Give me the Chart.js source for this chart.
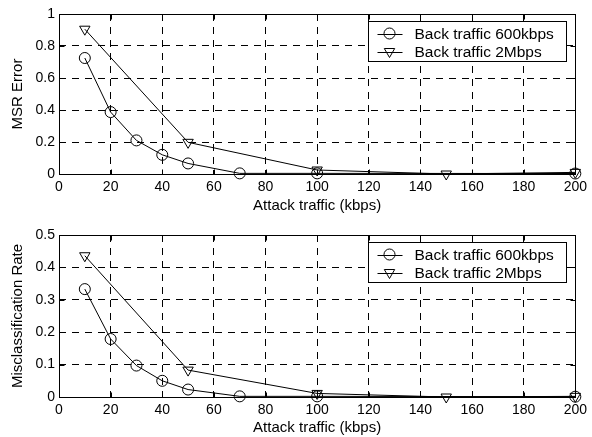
<!DOCTYPE html>
<html>
<head>
<meta charset="utf-8">
<script src="https://cdn.jsdelivr.net/npm/chart.js@4.4.1/dist/chart.umd.min.js"></script>
<style>
  html, body { margin: 0; padding: 0; background: #fff; }
  #wrap { position: relative; width: 592px; height: 437px; overflow: hidden; }
  .panel { position: absolute; left: 0; width: 592px; }
</style>
</head>
<body>
<div id="wrap">
  <div class="panel" style="top:0;height:218px"><canvas id="msrChart" width="592" height="218"></canvas></div>
  <div class="panel" style="top:218px;height:223px"><canvas id="misChart" width="592" height="223"></canvas></div>
</div>
<script>
// attack traffic (kbps) at which each series was measured
const attack600 = [10, 20, 30, 40, 50, 70, 100, 200];
const attack2M = [10, 50, 100, 150, 200];

// top panel: MSR error
const msr600 = [0.725, 0.387, 0.21, 0.12, 0.066, 0.004, 0.004, 0.003];
const msr2M = [0.905, 0.198, 0.025, 0, 0.01];

// bottom panel: misclassification rate
const mis600 = [0.333, 0.179, 0.097, 0.05, 0.023, 0.002, 0.002, 0.001];
const mis2M = [0.436, 0.083, 0.011, 0, 0.002];

const seriesNames = ['Back traffic 600kbps', 'Back traffic 2Mbps'];
const xTickValues = [0, 20, 40, 60, 80, 100, 120, 140, 160, 180, 200];
const msrTicks = [0, 0.2, 0.4, 0.6, 0.8, 1];
const misTicks = [0, 0.1, 0.2, 0.3, 0.4, 0.5];

const FONT = '"Liberation Sans", Arial, Helvetica, sans-serif';
Chart.defaults.font.family = FONT;
Chart.defaults.color = '#000';

function pts(xs, ys) {
  return xs.map((x, i) => ({ x: x, y: ys[i] }));
}

// matlab style box, inward ticks and the legend inside the axes
const matlabFrame = {
  id: 'matlabFrame',
  afterDraw(chart) {
    const ctx = chart.ctx;
    const a = chart.chartArea;
    const px = v => Math.round(v) + 0.5;
    const L = px(a.left), R = px(a.right), T = px(a.top), B = px(a.bottom);
    ctx.save();
    ctx.strokeStyle = '#000';
    ctx.lineWidth = 1;
    ctx.setLineDash([]);
    ctx.strokeRect(L, T, R - L, B - T);

    // inward tick marks
    ctx.beginPath();
    chart.scales.x.ticks.forEach(t => {
      const x = px(chart.scales.x.getPixelForValue(t.value));
      ctx.moveTo(x, B); ctx.lineTo(x, B - 5);
      ctx.moveTo(x, T); ctx.lineTo(x, T + 5);
    });
    chart.scales.y.ticks.forEach(t => {
      const y = px(chart.scales.y.getPixelForValue(t.value));
      ctx.moveTo(L, y); ctx.lineTo(L + 5, y);
      ctx.moveTo(R, y); ctx.lineTo(R - 5, y);
    });
    ctx.stroke();

    // legend
    const bw = 198, bh = 40;
    const bx = px(a.right - 9 - bw), by = px(a.top + 7);
    ctx.fillStyle = '#fff';
    ctx.fillRect(bx, by, bw, bh);
    ctx.strokeRect(bx, by, bw, bh);
    ctx.font = '15.5px ' + FONT;
    ctx.textBaseline = 'middle';
    ctx.fillStyle = '#000';
    seriesNames.forEach((name, i) => {
      const cy = by + 12 + i * 18;
      const cx = bx + 21;
      ctx.beginPath();
      ctx.moveTo(bx + 9, Math.round(cy) + 0.5);
      ctx.lineTo(bx + 34, Math.round(cy) + 0.5);
      ctx.stroke();
      ctx.beginPath();
      if (i === 0) {
        ctx.arc(cx, cy, 5.5, 0, Math.PI * 2);
      } else {
        const r = 6, s = r * Math.sin(Math.PI / 3);
        ctx.moveTo(cx, cy + r);
        ctx.lineTo(cx - s, cy - r / 2);
        ctx.lineTo(cx + s, cy - r / 2);
        ctx.closePath();
      }
      ctx.stroke();
      ctx.fillText(name, bx + 46, cy + 1);
    });
    ctx.restore();
  }
};

function makeChart(id, d600, d2M, yTicks, yMax, yTitle, pad, xHeight, titleBottom) {
  return new Chart(document.getElementById(id), {
    type: 'line',
    data: {
      datasets: [
        {
          label: seriesNames[0],
          data: pts(attack600, d600),
          borderColor: '#000',
          borderWidth: 1,
          pointStyle: 'circle',
          pointRadius: 5.5,
          pointBorderWidth: 1,
          pointBorderColor: '#000',
          pointBackgroundColor: 'rgba(0,0,0,0)',
          tension: 0,
          clip: false
        },
        {
          label: seriesNames[1],
          data: pts(attack2M, d2M),
          borderColor: '#000',
          borderWidth: 1,
          pointStyle: 'triangle',
          pointRotation: 180,
          pointRadius: 6,
          pointBorderWidth: 1,
          pointBorderColor: '#000',
          pointBackgroundColor: 'rgba(0,0,0,0)',
          tension: 0,
          clip: false
        }
      ]
    },
    options: {
      responsive: false,
      animation: false,
      events: [],
      layout: { padding: pad },
      plugins: { legend: { display: false }, tooltip: { enabled: false } },
      scales: {
        x: {
          type: 'linear',
          min: 0,
          max: 200,
          afterBuildTicks: s => { s.ticks = xTickValues.map(v => ({ value: v })); },
          afterFit: s => { s.height = xHeight; },
          ticks: { font: { size: 14 }, padding: 5, maxRotation: 0, autoSkip: false, callback: v => String(v) },
          grid: { color: '#000', lineWidth: 1, drawTicks: false },
          border: { display: false, dash: [7, 6] },
          title: { display: true, text: 'Attack traffic (kbps)', font: { size: 15 }, padding: { top: 0, bottom: titleBottom } }
        },
        y: {
          type: 'linear',
          min: 0,
          max: yMax,
          afterBuildTicks: s => { s.ticks = yTicks.map(v => ({ value: v })); },
          afterFit: s => { s.width = 59; },
          ticks: { font: { size: 14 }, padding: 4, autoSkip: false, callback: v => String(v) },
          grid: { color: '#000', lineWidth: 1, drawTicks: false },
          border: { display: false, dash: [7, 6] },
          title: { display: true, text: yTitle, font: { size: 15 }, padding: { top: 9, bottom: 0 } }
        }
      }
    },
    plugins: [matlabFrame]
  });
}

makeChart('msrChart', msr600, msr2M, msrTicks, 1, 'MSR Error',
  { top: 14, right: 13, left: 0, bottom: 0 }, 44, 3);
makeChart('misChart', mis600, mis2M, misTicks, 0.5, 'Misclassification Rate',
  { top: 17, right: 13, left: 0, bottom: 0 }, 44, 4);
</script>
</body>
</html>
